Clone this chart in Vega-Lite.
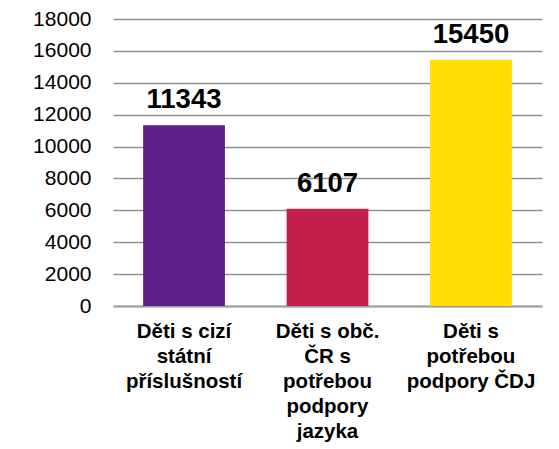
{
  "$schema": "https://vega.github.io/schema/vega-lite/v6.json",
  "autosize": "none",
  "width": 429,
  "height": 287,
  "padding": {"left": 113, "top": 19, "right": 17, "bottom": 143},
  "background": "white",
  "config": {
    "view": {"stroke": null},
    "font": "Liberation Sans"
  },
  "data": {
    "values": [
      {"kategorie": "Děti s cizí|státní|příslušností", "pocet": 11343, "barva": "#5B1F87"},
      {"kategorie": "Děti s obč.|ČR s|potřebou|podpory|jazyka", "pocet": 6107, "barva": "#C21F4E"},
      {"kategorie": "Děti s|potřebou|podpory ČDJ", "pocet": 15450, "barva": "#FFDD00"}
    ]
  },
  "encoding": {
    "x": {
      "field": "kategorie",
      "type": "nominal",
      "sort": null,
      "scale": {"paddingInner": 0.43, "paddingOuter": 0.21},
      "axis": {
        "title": null,
        "labelAngle": 0,
        "labelExpr": "split(datum.label, '|')",
        "labelFont": "Liberation Sans",
        "labelFontSize": 20.5,
        "labelFontWeight": "bold",
        "labelColor": "#000000",
        "labelLineHeight": 25,
        "labelBaseline": "top",
        "labelPadding": 15,
        "ticks": false,
        "domain": true,
        "domainColor": "#A0A0A0",
        "domainWidth": 2,
        "grid": false
      }
    },
    "y": {
      "field": "pocet",
      "type": "quantitative",
      "scale": {"domain": [0, 18000], "nice": false},
      "axis": {
        "title": null,
        "values": [0, 2000, 4000, 6000, 8000, 10000, 12000, 14000, 16000, 18000],
        "format": "d",
        "labelFont": "Liberation Sans",
        "labelFontSize": 21,
        "labelColor": "#000000",
        "labelPadding": 22,
        "ticks": false,
        "domain": false,
        "grid": true,
        "gridColor": "#8F8F8F",
        "gridWidth": 1.3
      }
    }
  },
  "layer": [
    {
      "mark": {"type": "bar"},
      "encoding": {
        "color": {"field": "barva", "type": "nominal", "scale": null, "legend": null}
      }
    },
    {
      "mark": {
        "type": "text",
        "font": "Liberation Sans",
        "fontSize": 27.5,
        "fontWeight": "bold",
        "color": "#000000",
        "baseline": "alphabetic",
        "dy": -17
      },
      "encoding": {
        "text": {"field": "pocet", "type": "quantitative", "format": "d"}
      }
    }
  ]
}
